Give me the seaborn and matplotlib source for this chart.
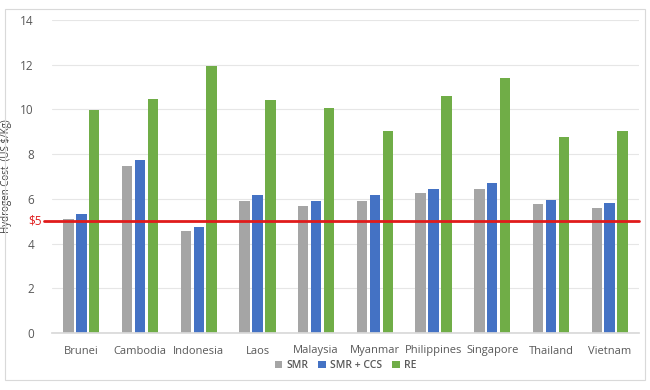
import matplotlib
matplotlib.use("Agg")
import matplotlib.pyplot as plt
import seaborn as sns
import pandas as pd
from matplotlib.patches import Rectangle

countries = ["Brunei", "Cambodia", "Indonesia", "Laos", "Malaysia", "Myanmar",
             "Philippines", "Singapore", "Thailand", "Vietnam"]
smr = [5.1, 7.45, 4.58, 5.92, 5.7, 5.92, 6.24, 6.46, 5.78, 5.6]
smr_ccs = [5.32, 7.76, 4.75, 6.16, 5.92, 6.16, 6.46, 6.7, 5.96, 5.8]
re = [9.96, 10.48, 11.93, 10.42, 10.06, 9.04, 10.62, 11.42, 8.78, 9.04]
series_names = ["SMR", "SMR + CCS", "RE"]
colors = ["#A5A5A5", "#4472C4", "#70AD47"]
threshold = 5
yticks = [0, 2, 4, 6, 8, 10, 12, 14]

rows = []
for name, vals in zip(series_names, [smr, smr_ccs, re]):
    for c, v in zip(countries, vals):
        rows.append({"Country": c, "Series": name, "Cost": v})
df = pd.DataFrame(rows)

sns.set_theme(style="white")
plt.rcParams['font.family'] = ['Open Sans', 'DejaVu Sans']

fig = plt.figure(figsize=(6.5, 3.9), dpi=100)
ax = fig.add_axes([52/650, 1 - 333/390, 587/650, 313/390])

sns.barplot(data=df, x="Country", y="Cost", hue="Series", order=countries,
            hue_order=series_names, palette=colors, width=0.66, gap=0.2,
            saturation=1, linewidth=0, ax=ax, legend=True)

ax.set_ylim(0, 14)
ax.set_xlim(-0.5, len(countries) - 0.5)
ax.set_yticks(yticks)
ax.yaxis.grid(True, color="#E6E6E6", linewidth=0.8)
ax.set_axisbelow(True)
for s in ["top", "right", "left"]:
    ax.spines[s].set_visible(False)
ax.spines["bottom"].set_color("#D9D9D9")
ax.tick_params(axis="both", length=0, labelsize=8.5, colors="#595959")
ax.tick_params(axis="x", pad=9, labelsize=8)
ax.tick_params(axis="y", pad=13)
ax.set_xlabel("")
ax.set_ylabel("Hydrogen Cost  (US $/Kg)", fontsize=7, color="#404040", labelpad=6)

ax.axhline(threshold, xmin=-0.013, xmax=1.0, color="#E01B1B", linewidth=2,
           zorder=5, clip_on=False)
ax.text(-0.67, threshold, "$" + str(threshold), color="#E01B1B", fontsize=8.5,
        ha="right", va="center", transform=ax.transData, clip_on=False)

leg = ax.legend(loc="center", bbox_to_anchor=(0.5, -0.105), ncol=3,
                frameon=False, fontsize=7.5, handlelength=0.7, handleheight=0.7,
                handletextpad=0.4, columnspacing=1.0)
for t in leg.get_texts():
    t.set_color("#595959")
    t.set_fontweight("semibold")

fig.patches.append(Rectangle((5/650, 10/390), 640/650, 371/390, transform=fig.transFigure,
                             fill=False, edgecolor="#D9D9D9", linewidth=0.8))

fig.savefig("out.png", dpi=100)
